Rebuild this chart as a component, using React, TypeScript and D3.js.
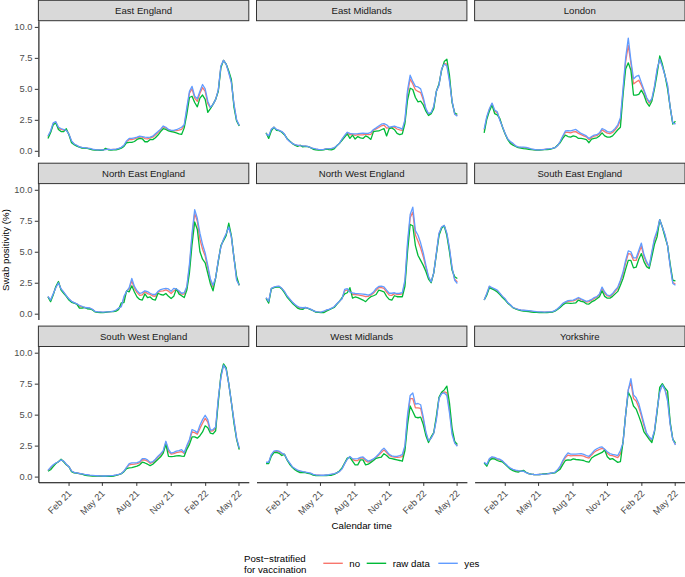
import React, { useEffect, useRef } from "react";
import * as d3 from "d3";

// page size and layout of the 3x3 facet grid
const WIDTH = 685;
const HEIGHT = 577;
const FONT = "'Liberation Sans', Arial, Helvetica, sans-serif";
const PANEL_LEFT = 38.4;
const COL_STEP = 218.1;
const PANEL_W = 210.4;
const ROW_TOP = 0.3;
const ROW_STEP = 162.9;
const STRIP_H = 20.4;
const PANEL_H = 135.8;
const LINE_W = 1.3;

const dates = [
    "2020-12-08", "2020-12-15", "2020-12-22", "2020-12-29", "2021-01-05", "2021-01-12", "2021-01-19", "2021-01-26",
    "2021-02-02", "2021-02-09", "2021-02-16", "2021-02-23", "2021-03-02", "2021-03-09", "2021-03-16", "2021-03-23",
    "2021-03-30", "2021-04-06", "2021-04-13", "2021-04-20", "2021-04-27", "2021-05-04", "2021-05-11", "2021-05-18",
    "2021-05-25", "2021-06-01", "2021-06-08", "2021-06-15", "2021-06-22", "2021-06-29", "2021-07-06", "2021-07-13",
    "2021-07-20", "2021-07-27", "2021-08-03", "2021-08-10", "2021-08-17", "2021-08-24", "2021-08-31", "2021-09-07",
    "2021-09-14", "2021-09-21", "2021-09-28", "2021-10-05", "2021-10-12", "2021-10-19", "2021-10-26", "2021-11-02",
    "2021-11-09", "2021-11-16", "2021-11-23", "2021-11-30", "2021-12-07", "2021-12-14", "2021-12-21", "2021-12-28",
    "2022-01-04", "2022-01-11", "2022-01-18", "2022-01-25", "2022-02-01", "2022-02-08", "2022-02-15", "2022-02-22",
    "2022-03-01", "2022-03-08", "2022-03-15", "2022-03-22", "2022-03-29", "2022-04-05", "2022-04-12", "2022-04-19",
    "2022-04-26", "2022-05-03",
];

const regions = [
    "East England", "East Midlands", "London",
    "North East England", "North West England", "South East England",
    "South West England", "West Midlands", "Yorkshire",
];
const groups = ["no", "raw data", "yes"];
const groupColors = ["#F8766D", "#00BA38", "#619CFF"];
const xTickDates = ["2021-02-01", "2021-05-01", "2021-08-01", "2021-11-01", "2022-02-01", "2022-05-01"];
const xTickLabels = ["Feb 21", "May 21", "Aug 21", "Nov 21", "Feb 22", "May 22"];
const yTicks = [0, 2.5, 5, 7.5, 10];

// swab positivity (%) per region: no / raw data / yes
const eastEnglandNo = [1.14,1.55,2.2,2.32,1.85,1.73,1.67,1.69,1.34,0.76,0.54,0.43,0.31,0.26,0.24,0.21,0.18,0.12,0.09,0.07,0.07,0.07,0.13,0.12,0.09,0.11,0.12,0.18,0.26,0.42,0.75,0.9,0.9,0.96,1.05,1.13,1.1,0.99,0.97,1.05,1.1,1.27,1.47,1.69,1.93,1.84,1.68,1.62,1.6,1.63,1.67,1.73,2.03,3.3,4.65,5.0,4.25,4.0,4.65,5.1,4.8,3.8,3.47,3.75,4.15,4.87,6.8,7.3,7.0,6.35,5.55,3.7,2.47,2.04];
const eastEnglandRaw = [1.0,1.45,2.1,2.25,1.72,1.55,1.55,1.78,1.3,0.65,0.5,0.38,0.3,0.22,0.22,0.19,0.14,0.08,0.05,0.05,0.03,0.05,0.2,0.08,0.05,0.08,0.08,0.14,0.22,0.35,0.65,0.68,0.68,0.75,0.92,1.0,0.97,0.73,0.73,0.92,0.9,1.05,1.27,1.55,1.78,1.72,1.6,1.55,1.5,1.45,1.37,1.32,1.85,2.95,4.3,4.4,3.9,3.55,4.25,4.5,4.15,3.1,3.4,3.75,4.15,4.8,6.7,7.3,7.0,6.45,5.75,3.5,2.4,2.0];
const eastEnglandYes = [1.2,1.6,2.25,2.35,1.9,1.8,1.72,1.65,1.35,0.8,0.55,0.45,0.32,0.27,0.25,0.22,0.2,0.14,0.1,0.08,0.08,0.08,0.1,0.13,0.1,0.12,0.14,0.2,0.28,0.45,0.8,1.0,1.0,1.05,1.1,1.18,1.15,1.1,1.08,1.1,1.18,1.37,1.55,1.75,2.0,1.9,1.72,1.65,1.65,1.7,1.8,1.9,2.1,3.5,4.8,5.2,4.4,4.2,4.8,5.35,5.0,4.0,3.5,3.75,4.15,4.9,6.85,7.3,7.0,6.3,5.5,3.75,2.5,2.05];

const eastMidlandsNo = [1.42,1.14,1.7,1.9,1.7,1.64,1.54,1.34,0.97,0.77,0.6,0.49,0.42,0.43,0.38,0.37,0.34,0.25,0.18,0.13,0.1,0.09,0.11,0.15,0.15,0.16,0.22,0.4,0.6,0.92,1.2,1.46,1.28,1.34,1.24,1.31,1.29,1.29,1.34,1.31,1.33,1.67,1.77,1.88,2.02,2.08,1.83,1.87,1.92,1.91,1.76,1.69,1.64,2.41,4.66,5.8,5.4,4.93,4.79,4.7,4.12,3.34,2.96,3.07,3.54,4.8,5.33,6.57,7.06,6.99,5.75,3.97,2.98,2.85];
const eastMidlandsRaw = [1.45,1.0,1.6,1.9,1.65,1.62,1.5,1.3,1.0,0.8,0.6,0.45,0.35,0.45,0.32,0.35,0.33,0.25,0.12,0.08,0.06,0.05,0.08,0.13,0.1,0.08,0.15,0.4,0.6,0.85,1.1,1.37,1.0,1.27,0.95,1.15,1.05,1.0,1.2,1.1,0.92,1.55,1.58,1.6,1.7,1.8,1.2,1.8,1.85,1.7,1.4,1.3,1.37,2.2,4.1,5.05,4.95,4.3,3.95,4.0,3.7,3.2,2.85,3.0,3.4,4.8,5.4,6.5,7.2,7.4,6.1,3.9,3.05,2.95];
const eastMidlandsYes = [1.4,1.2,1.75,1.9,1.72,1.65,1.55,1.35,0.95,0.75,0.6,0.5,0.45,0.42,0.4,0.38,0.35,0.25,0.2,0.15,0.12,0.1,0.12,0.16,0.17,0.2,0.25,0.4,0.6,0.95,1.25,1.5,1.4,1.37,1.37,1.38,1.4,1.42,1.4,1.4,1.5,1.72,1.85,2.0,2.15,2.2,2.1,1.9,1.95,2.0,1.92,1.85,1.75,2.5,4.9,6.1,5.6,5.2,5.15,5.0,4.3,3.4,3.0,3.1,3.6,4.8,5.3,6.6,7.0,6.85,5.6,4.0,2.95,2.8];

const londonNo = [1.65,2.7,3.35,3.8,3.2,3.07,2.5,1.93,1.38,0.93,0.7,0.55,0.38,0.3,0.27,0.26,0.24,0.19,0.14,0.1,0.07,0.07,0.09,0.11,0.13,0.15,0.19,0.25,0.42,0.72,1.13,1.5,1.48,1.45,1.52,1.55,1.4,1.3,1.2,1.12,0.9,1.08,1.18,1.22,1.37,1.69,1.55,1.42,1.38,1.48,1.7,1.98,2.45,4.85,7.2,8.5,7.1,5.4,5.55,5.7,5.3,4.8,4.2,3.85,4.15,5.15,6.5,7.45,6.85,6.1,5.2,3.5,2.22,2.22];
const londonRaw = [1.45,2.55,3.2,3.7,3.0,2.9,2.6,1.9,1.35,0.9,0.6,0.45,0.35,0.25,0.22,0.18,0.15,0.12,0.1,0.07,0.05,0.05,0.08,0.1,0.1,0.12,0.18,0.25,0.45,0.65,1.0,1.27,1.15,1.1,1.2,1.15,1.0,1.0,0.97,0.9,0.65,0.95,1.0,1.05,1.2,1.45,1.2,1.1,1.1,1.2,1.45,1.7,1.9,4.5,6.6,7.1,6.5,4.5,4.5,4.55,4.9,4.5,3.9,3.6,4.0,5.0,6.2,7.65,7.0,6.1,5.0,3.5,2.15,2.4];
const londonYes = [1.75,2.75,3.4,3.85,3.3,3.15,2.45,1.95,1.4,0.95,0.75,0.6,0.4,0.32,0.3,0.3,0.28,0.22,0.16,0.12,0.08,0.08,0.1,0.12,0.15,0.17,0.2,0.25,0.4,0.75,1.2,1.6,1.62,1.6,1.66,1.72,1.55,1.4,1.3,1.2,1.0,1.15,1.27,1.3,1.45,1.8,1.7,1.55,1.5,1.6,1.8,2.1,2.67,5.0,7.5,9.1,7.3,5.8,6.0,6.1,5.5,4.9,4.3,3.95,4.2,5.2,6.6,7.4,6.8,6.1,5.3,3.5,2.25,2.15];

const northEastNo = [1.38,1.06,1.57,2.13,2.53,1.97,1.72,1.44,1.17,0.98,0.88,0.79,0.6,0.55,0.5,0.46,0.44,0.34,0.17,0.13,0.12,0.11,0.13,0.15,0.16,0.19,0.27,0.42,0.65,1.25,1.82,2.0,2.65,2.05,1.7,1.48,1.52,1.77,1.62,1.56,1.43,1.41,1.75,1.82,1.85,1.92,1.82,1.63,1.84,2.0,1.77,1.59,1.58,2.1,3.8,6.2,8.1,7.45,6.0,5.2,4.65,3.7,2.68,2.15,2.9,4.27,5.43,5.97,6.4,7.1,6.2,4.5,2.8,2.3];
const northEastRaw = [1.35,0.97,1.5,2.2,2.6,1.9,1.65,1.4,1.1,0.92,0.85,0.78,0.45,0.45,0.5,0.4,0.38,0.3,0.14,0.1,0.08,0.08,0.1,0.14,0.16,0.16,0.2,0.35,0.88,0.9,1.85,1.77,2.25,1.75,1.35,1.15,1.1,1.6,1.3,1.35,1.15,1.1,1.65,1.55,1.5,1.63,1.4,1.23,1.4,2.0,1.6,1.45,1.3,1.9,3.3,5.6,7.4,6.8,5.0,4.4,4.1,3.25,2.4,1.85,2.9,4.2,5.5,5.9,6.3,7.3,6.3,4.5,3.0,2.3];
const northEastYes = [1.4,1.1,1.6,2.1,2.5,2.0,1.75,1.45,1.2,1.0,0.9,0.8,0.68,0.6,0.5,0.48,0.46,0.35,0.18,0.15,0.14,0.13,0.14,0.15,0.16,0.2,0.3,0.45,0.56,1.4,1.8,2.1,2.85,2.2,1.85,1.63,1.7,1.85,1.78,1.65,1.55,1.55,1.8,1.95,2.0,2.04,2.0,1.8,2.05,2.0,1.85,1.65,1.7,2.2,4.0,6.5,8.4,7.7,6.5,5.6,4.9,3.9,2.8,2.3,2.9,4.3,5.4,6.0,6.45,7.0,6.2,4.5,2.7,2.3];

const northWestNo = [1.28,0.95,2.03,2.13,2.18,2.2,2.04,1.77,1.42,1.17,0.92,0.72,0.55,0.46,0.44,0.5,0.44,0.36,0.25,0.15,0.13,0.11,0.16,0.27,0.34,0.44,0.54,0.79,1.0,1.23,1.85,1.92,1.85,1.55,1.55,1.52,1.48,1.44,1.38,1.4,1.52,1.66,1.89,2.11,2.11,2.05,1.75,1.5,1.48,1.62,1.55,1.56,1.6,2.55,5.5,7.75,8.2,6.35,5.85,5.3,4.6,3.75,2.94,2.55,3.3,4.87,6.44,6.97,7.12,6.44,5.21,3.64,2.78,2.56];
const northWestRaw = [1.23,0.85,2.0,2.1,2.15,2.17,2.0,1.7,1.35,1.1,0.85,0.65,0.45,0.37,0.35,0.5,0.42,0.33,0.25,0.12,0.1,0.08,0.08,0.2,0.3,0.4,0.5,0.75,1.0,1.3,1.6,1.69,2.1,1.25,1.35,1.3,1.2,1.1,0.97,1.2,1.37,1.45,1.55,1.9,1.85,1.77,1.4,1.15,1.1,1.45,1.37,1.37,1.37,2.2,5.0,7.2,7.1,5.5,4.7,4.3,3.9,3.4,2.8,2.5,3.3,4.8,6.3,6.9,7.1,6.3,5.0,3.5,2.98,2.84];
const northWestYes = [1.3,1.0,2.04,2.15,2.2,2.22,2.05,1.8,1.45,1.2,0.95,0.75,0.6,0.5,0.48,0.5,0.45,0.37,0.25,0.16,0.14,0.13,0.2,0.3,0.35,0.45,0.56,0.8,1.0,1.2,1.96,2.02,1.75,1.68,1.63,1.62,1.6,1.58,1.55,1.5,1.58,1.75,2.04,2.2,2.22,2.17,1.9,1.65,1.65,1.69,1.63,1.65,1.7,2.7,5.8,8.0,8.6,6.7,6.33,5.7,4.9,3.9,3.0,2.57,3.3,4.9,6.5,7.0,7.13,6.5,5.3,3.7,2.7,2.44];

const southEastNo = [1.1,1.59,2.19,2.07,1.97,1.85,1.62,1.37,1.17,0.89,0.71,0.49,0.41,0.34,0.28,0.26,0.24,0.22,0.19,0.17,0.14,0.13,0.12,0.12,0.13,0.14,0.15,0.24,0.38,0.57,0.8,0.92,1.0,1.02,1.04,1.12,1.25,1.14,1.06,0.94,0.97,1.09,1.22,1.33,1.53,2.06,1.65,1.43,1.39,1.55,1.81,2.05,2.6,3.2,4.1,4.85,4.8,4.3,4.3,4.9,5.45,4.6,4.1,3.78,4.9,5.95,6.55,7.59,7.0,6.35,5.5,3.85,2.52,2.4];
const southEastRaw = [1.1,1.5,2.09,2.0,1.9,1.75,1.55,1.3,1.1,0.85,0.68,0.48,0.38,0.3,0.24,0.2,0.18,0.16,0.13,0.11,0.1,0.09,0.08,0.08,0.09,0.1,0.12,0.2,0.35,0.5,0.7,0.85,0.85,0.83,0.85,0.88,1.1,1.0,0.95,0.8,0.78,0.95,1.05,1.2,1.37,1.85,1.4,1.25,1.25,1.4,1.6,1.8,2.3,2.84,3.6,4.3,4.3,3.7,3.75,4.4,4.85,4.2,3.8,3.65,4.6,5.6,6.2,7.59,7.0,6.2,5.5,4.0,2.7,2.65];
const southEastYes = [1.1,1.63,2.23,2.1,2.0,1.9,1.65,1.4,1.2,0.9,0.72,0.5,0.42,0.35,0.3,0.28,0.26,0.24,0.22,0.19,0.16,0.15,0.14,0.13,0.14,0.15,0.16,0.25,0.4,0.6,0.83,0.95,1.05,1.08,1.1,1.2,1.31,1.2,1.1,1.0,1.05,1.15,1.3,1.38,1.6,2.15,1.75,1.5,1.45,1.62,1.9,2.15,2.7,3.38,4.3,5.07,5.0,4.5,4.5,5.1,5.7,4.75,4.2,3.83,5.0,6.1,6.7,7.59,7.0,6.4,5.5,3.8,2.44,2.3];

const southWestNo = [0.48,0.7,0.9,1.08,1.2,1.36,1.23,0.98,0.8,0.44,0.32,0.29,0.25,0.21,0.16,0.13,0.1,0.08,0.07,0.06,0.05,0.04,0.04,0.05,0.06,0.08,0.12,0.17,0.24,0.43,0.72,0.95,0.99,1.01,1.04,1.12,1.36,1.34,1.25,1.07,1.14,1.34,1.57,1.77,2.04,2.77,2.03,1.82,1.86,1.94,1.98,2.02,1.86,2.41,2.88,3.62,3.55,3.42,3.89,4.3,4.7,4.39,3.67,3.7,3.91,6.2,8.06,9.03,8.7,7.5,6.0,4.5,3.07,2.26];
const southWestRaw = [0.43,0.55,0.8,1.05,1.2,1.4,1.2,0.95,0.8,0.4,0.3,0.28,0.24,0.2,0.12,0.08,0.06,0.05,0.05,0.05,0.04,0.03,0.03,0.03,0.03,0.04,0.1,0.15,0.24,0.4,0.65,0.7,0.72,0.78,0.84,0.95,1.16,1.1,1.0,0.89,1.0,1.2,1.4,1.6,1.9,2.6,1.64,1.62,1.64,1.68,1.7,1.65,1.64,2.2,2.6,3.2,3.2,3.1,3.3,3.6,4.1,3.95,3.5,3.45,3.7,6.0,8.2,9.1,8.8,7.5,6.0,4.3,3.0,2.18];
const southWestYes = [0.5,0.75,0.95,1.1,1.2,1.35,1.25,1.0,0.8,0.45,0.33,0.3,0.25,0.22,0.18,0.15,0.12,0.1,0.08,0.07,0.06,0.05,0.05,0.06,0.08,0.1,0.13,0.18,0.24,0.45,0.75,1.05,1.1,1.1,1.12,1.2,1.45,1.45,1.35,1.15,1.2,1.4,1.65,1.85,2.1,2.85,2.2,1.9,1.95,2.05,2.1,2.18,1.95,2.5,3.0,3.8,3.7,3.55,4.15,4.6,4.95,4.6,3.75,3.8,4.0,6.3,8.0,9.0,8.65,7.5,6.0,4.5,3.1,2.3];

const westMidlandsNo = [1.13,1.13,1.74,2.01,2.06,2.0,1.84,1.8,1.38,1.07,0.78,0.62,0.49,0.42,0.38,0.35,0.3,0.26,0.16,0.11,0.11,0.1,0.1,0.12,0.13,0.17,0.22,0.3,0.42,0.65,1.07,1.43,1.6,1.39,1.29,1.3,1.49,1.52,1.27,1.17,1.27,1.39,1.56,1.73,1.95,2.16,1.94,1.71,1.61,1.57,1.55,1.58,1.62,2.38,4.75,6.3,6.3,5.55,5.55,5.5,4.6,3.5,2.85,3.13,3.52,4.69,6.33,6.73,6.83,6.78,5.4,3.55,2.75,2.49];
const westMidlandsRaw = [1.05,1.05,1.64,1.93,1.95,1.88,1.7,1.8,1.35,1.0,0.75,0.55,0.42,0.32,0.34,0.33,0.26,0.22,0.12,0.08,0.08,0.08,0.08,0.09,0.1,0.11,0.17,0.3,0.45,0.7,1.1,1.5,1.55,1.25,0.95,0.95,1.35,1.35,0.95,1.0,1.15,1.3,1.48,1.53,1.58,1.85,1.7,1.5,1.45,1.4,1.35,1.3,1.24,2.1,4.2,5.7,5.25,4.8,4.75,4.8,4.2,3.3,2.75,3.2,3.55,4.88,6.4,6.8,7.0,7.3,5.96,3.9,2.85,2.59];
const westMidlandsYes = [1.16,1.16,1.78,2.05,2.1,2.05,1.9,1.8,1.4,1.1,0.8,0.65,0.52,0.46,0.4,0.36,0.32,0.28,0.18,0.13,0.12,0.11,0.11,0.13,0.15,0.2,0.24,0.3,0.4,0.62,1.05,1.4,1.62,1.45,1.43,1.45,1.55,1.59,1.4,1.25,1.33,1.43,1.6,1.82,2.1,2.3,2.05,1.8,1.68,1.64,1.64,1.7,1.78,2.5,5.0,6.55,6.75,5.85,5.9,5.8,4.8,3.6,2.9,3.1,3.5,4.6,6.3,6.7,6.75,6.55,5.15,3.4,2.7,2.45];

const yorkshireNo = [1.13,0.93,1.4,1.55,1.51,1.4,1.35,1.24,1.04,0.84,0.66,0.55,0.48,0.44,0.45,0.45,0.33,0.24,0.2,0.17,0.16,0.17,0.18,0.21,0.23,0.25,0.29,0.34,0.52,0.77,1.2,1.55,1.74,1.67,1.7,1.69,1.7,1.7,1.65,1.55,1.5,1.75,1.96,2.1,2.2,2.27,2.19,1.88,1.72,1.7,1.62,1.54,1.83,2.75,5.0,7.0,7.6,6.3,6.1,5.6,4.9,4.1,3.45,3.15,2.93,3.67,5.34,6.9,7.43,7.04,6.34,4.26,3.0,2.6];
const yorkshireRaw = [1.1,0.84,1.3,1.45,1.42,1.3,1.22,1.18,1.0,0.8,0.6,0.48,0.4,0.36,0.45,0.5,0.35,0.24,0.2,0.17,0.16,0.17,0.19,0.22,0.24,0.26,0.28,0.3,0.45,0.6,0.97,1.3,1.35,1.33,1.43,1.38,1.36,1.33,1.3,1.2,1.16,1.5,1.65,1.75,1.85,1.95,2.15,1.6,1.4,1.45,1.3,1.15,1.2,2.8,5.0,6.8,6.4,5.7,5.45,4.9,4.3,3.6,3.3,3.0,2.75,3.6,5.2,7.2,7.5,7.15,6.9,4.4,3.0,2.72];
const yorkshireYes = [1.15,0.97,1.45,1.6,1.55,1.45,1.4,1.27,1.05,0.85,0.68,0.58,0.52,0.48,0.45,0.43,0.32,0.24,0.2,0.17,0.16,0.17,0.18,0.2,0.22,0.25,0.3,0.35,0.55,0.84,1.3,1.65,1.91,1.82,1.81,1.82,1.84,1.86,1.8,1.7,1.64,1.85,2.1,2.25,2.35,2.4,2.2,2.0,1.86,1.8,1.75,1.7,2.1,2.72,5.0,7.0,7.9,6.6,6.36,5.9,5.1,4.3,3.5,3.2,3.0,3.7,5.4,6.8,7.4,7.0,6.1,4.2,3.0,2.55];

const regionSeries: number[][][] = [
    [eastEnglandNo, eastEnglandRaw, eastEnglandYes],
    [eastMidlandsNo, eastMidlandsRaw, eastMidlandsYes],
    [londonNo, londonRaw, londonYes],
    [northEastNo, northEastRaw, northEastYes],
    [northWestNo, northWestRaw, northWestYes],
    [southEastNo, southEastRaw, southEastYes],
    [southWestNo, southWestRaw, southWestYes],
    [westMidlandsNo, westMidlandsRaw, westMidlandsYes],
    [yorkshireNo, yorkshireRaw, yorkshireYes],
];

const parseDate = d3.timeParse("%Y-%m-%d");

const FacetChart: React.FC = () => {
    const d3Container = useRef(null);

    useEffect(() => {
        const root = d3.select(d3Container.current);
        root.selectAll("*").remove();

        const times = dates.map((d) => parseDate(d) as Date);
        const first = times[0];
        const last = times[times.length - 1];
        const pad = (last.getTime() - first.getTime()) * 0.05;
        const xDomain = [new Date(first.getTime() - pad), new Date(last.getTime() + pad)];
        const yDomain = [-0.46, 10.5];

        regions.forEach((region, i) => {
            const col = i % 3;
            const row = Math.floor(i / 3);
            const left = PANEL_LEFT + col * COL_STEP;
            const top = ROW_TOP + row * ROW_STEP;
            const panelTop = top + STRIP_H;
            const panelBottom = panelTop + PANEL_H;

            const xScale = d3.scaleTime().domain(xDomain).range([left, left + PANEL_W]);
            const yScale = d3.scaleLinear().domain(yDomain).range([panelBottom, panelTop]);

            const g = root.append("g");

            // strip
            g.append("rect")
                .attr("x", left)
                .attr("y", top)
                .attr("width", PANEL_W)
                .attr("height", STRIP_H)
                .style("fill", "#D9D9D9")
                .style("stroke", "#333333")
                .style("stroke-width", 1);
            g.append("text")
                .attr("x", left + PANEL_W / 2)
                .attr("y", top + STRIP_H / 2)
                .attr("dy", "0.35em")
                .attr("text-anchor", "middle")
                .style("font-family", FONT)
                .style("font-size", "9.6px")
                .style("fill", "#1A1A1A")
                .text(region);

            // lines: no, raw data, yes (yes drawn last)
            const line = d3.line<number>()
                .x((_, k) => xScale(times[k]))
                .y((v) => yScale(v));
            regionSeries[i].forEach((vals, s) => {
                g.append("path")
                    .datum(vals)
                    .attr("d", line)
                    .style("fill", "none")
                    .style("stroke", groupColors[s])
                    .style("stroke-width", LINE_W)
                    .style("stroke-linejoin", "round");
            });

            if (col === 0) {
                const yAxis = d3.axisLeft(yScale)
                    .tickValues(yTicks)
                    .tickFormat(d3.format(".1f"))
                    .tickSizeInner(3.6)
                    .tickSizeOuter(0)
                    .tickPadding(2.4);
                const yAxisG = g.append("g")
                    .attr("transform", "translate(" + left + ",0)")
                    .call(yAxis);
                yAxisG.select(".domain").style("stroke", "#000").style("stroke-width", 1.05);
                yAxisG.selectAll(".tick line").style("stroke", "#333333").style("stroke-width", 1);
                yAxisG.selectAll(".tick text")
                    .style("font-family", FONT)
                    .style("font-size", "9.3px")
                    .style("fill", "#4D4D4D");
            }

            if (row === 2) {
                const xAxis = d3.axisBottom(xScale)
                    .tickValues(xTickDates.map((d) => parseDate(d) as Date))
                    .tickFormat((_, k) => xTickLabels[k])
                    .tickSizeInner(3.6)
                    .tickSizeOuter(0);
                const xAxisG = g.append("g")
                    .attr("transform", "translate(0," + panelBottom + ")")
                    .call(xAxis);
                xAxisG.select(".domain").style("stroke", "#000").style("stroke-width", 1.05);
                xAxisG.selectAll(".tick line").style("stroke", "#333333").style("stroke-width", 1);
                xAxisG.selectAll(".tick text")
                    .attr("x", 0)
                    .attr("y", 0)
                    .attr("dy", "0.71em")
                    .attr("text-anchor", "end")
                    .attr("transform", "translate(-1.5,7) rotate(-45)")
                    .style("font-family", FONT)
                    .style("font-size", "9.3px")
                    .style("fill", "#4D4D4D");
            }
        });

        // axis titles
        root.append("text")
            .attr("x", (PANEL_LEFT + PANEL_LEFT + 2 * COL_STEP + PANEL_W) / 2)
            .attr("y", 528.5)
            .attr("text-anchor", "middle")
            .style("font-family", FONT)
            .style("font-size", "9.7px")
            .style("fill", "#000")
            .text("Calendar time");
        root.append("text")
            .attr("transform", "translate(9.2,250) rotate(-90)")
            .attr("text-anchor", "middle")
            .style("font-family", FONT)
            .style("font-size", "9.7px")
            .style("fill", "#000")
            .text("Swab positivity (%)");

        // legend
        const legend = root.append("g");
        legend.append("text")
            .attr("x", 244)
            .attr("y", 561.5)
            .style("font-family", FONT)
            .style("font-size", "9.7px")
            .style("fill", "#000")
            .text("Post\u2212stratified");
        legend.append("text")
            .attr("x", 244)
            .attr("y", 572.5)
            .style("font-family", FONT)
            .style("font-size", "9.7px")
            .style("fill", "#000")
            .text("for vaccination");
        const keyX = [323.3, 366.7, 438.3];
        groups.forEach((name, s) => {
            legend.append("line")
                .attr("x1", keyX[s])
                .attr("x2", keyX[s] + 19.5)
                .attr("y1", 563.3)
                .attr("y2", 563.3)
                .style("stroke", groupColors[s])
                .style("stroke-width", 1.4);
            legend.append("text")
                .attr("x", keyX[s] + 26)
                .attr("y", 563.3)
                .attr("dy", "0.35em")
                .style("font-family", FONT)
                .style("font-size", "9.7px")
                .style("fill", "#000")
                .text(name);
        });
    }, []);

    return (
        <svg
            ref={d3Container}
            width={WIDTH}
            height={HEIGHT}
            style={{position: "absolute", left: 0, top: 0, background: "#fff"}}
        />
    );
};

export default function App() {
    return <FacetChart/>;
}
